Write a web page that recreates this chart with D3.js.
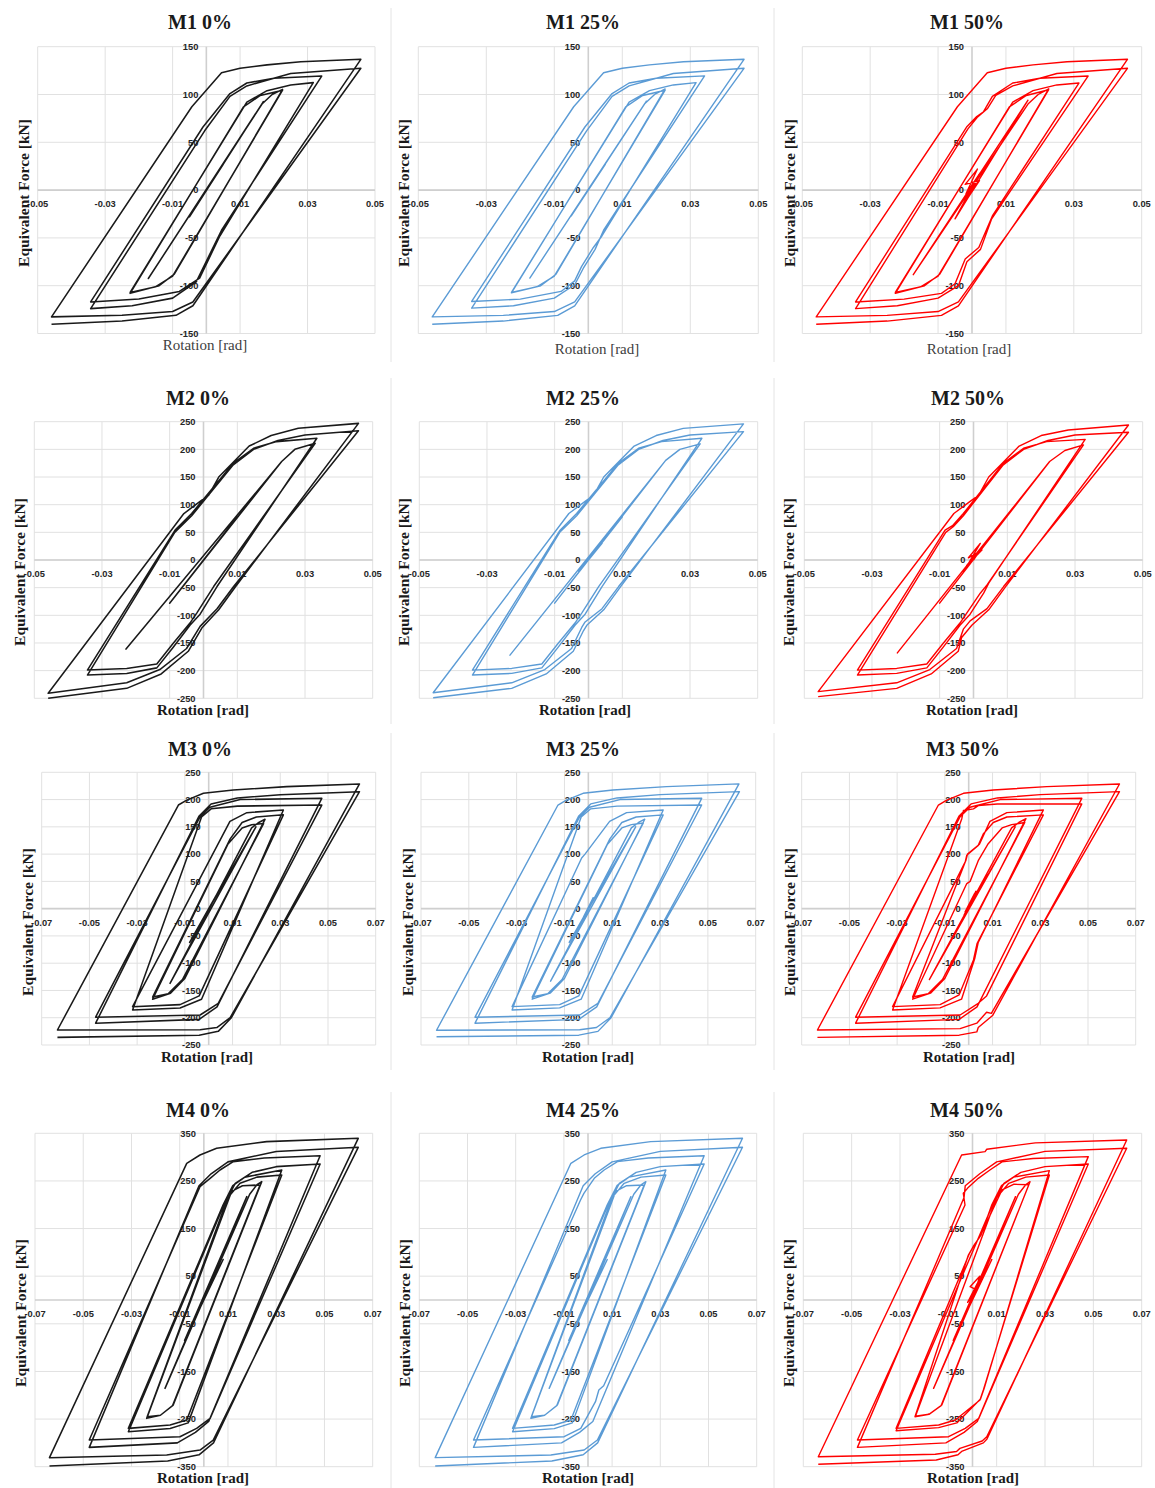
<!DOCTYPE html>
<html>
<head>
<meta charset="utf-8">
<script src="https://cdn.jsdelivr.net/npm/d3@7"></script>
<style>
  body { margin: 0; background: #fff; }
  svg { display: block; }
</style>
</head>
<body>
<svg id="chart" width="1155" height="1488"></svg>
<script>
// ---------- Tick values ----------
const xTicksM12 = [-0.05, -0.03, -0.01, 0.01, 0.03, 0.05];
const xTicksM34 = [-0.07, -0.05, -0.03, -0.01, 0.01, 0.03, 0.05, 0.07];
const yTicksM1 = [-150, -100, -50, 0, 50, 100, 150];
const yTicksM23 = [-250, -200, -150, -100, -50, 0, 50, 100, 150, 200, 250];
const yTicksM4 = [-350, -250, -150, -50, 50, 150, 250, 350];

// ---------- Hysteresis records: [rotation (rad), equivalent force (kN)] ----------
const M1_0 = [
  [0,0],[0.005,27],[-0.005,-28],[0.0169,92.5],[-0.0172,-92.5],
  [0.0165,90],[0.0195,100],[0.0226,105.4],
  [-0.0095,-88],[-0.014,-100],[-0.0226,-108],
  [0.011,87],[0.016,99],[0.0226,104.5],
  [-0.010,-90],[-0.015,-101],[-0.0226,-107],
  [0.012,92],[0.018,104],[0.025,110],[0.0317,112.4],
  [0.004,-48],[-0.002,-92],[-0.008,-106],[-0.02,-114],[-0.0343,-117],
  [-0.001,66],[0.007,101],[0.012,112],[0.02,117],[0.0342,119.3],
  [0.0045,-42],[-0.003,-96],[-0.01,-113],[-0.022,-121],[-0.0343,-124],
  [-0.0005,62],[0.007,98],[0.012,109],[0.025,122],[0.0458,127.4],
  [-0.004,-117],[-0.01,-127],[-0.025,-131],[-0.0459,-132.6],
  [-0.0043,87.2],[0.0045,122.8],[0.01,127.4],[0.018,131],[0.028,134.3],[0.0458,136.8],
  [-0.004,-121],[-0.009,-131],[-0.025,-137],[-0.0459,-140.3]
];
const M1_25 = [
  [0,0],[0.005,27],[-0.005,-27],[0.0171,93],[-0.0172,-92],
  [0.0165,90],[0.0195,100],[0.0226,105.8],
  [-0.0095,-88],[-0.014,-100],[-0.0226,-107.5],
  [0.011,87],[0.016,99],[0.0226,104.5],
  [-0.010,-90],[-0.015,-101],[-0.0226,-107],
  [0.012,92],[0.018,104],[0.025,110],[0.0317,112.4],
  [0.004,-48],[0.0015,-60],[-0.002,-80],[-0.004,-95],[-0.008,-106],[-0.02,-114],[-0.0343,-116.5],
  [-0.001,66],[0.007,101],[0.012,112],[0.02,117],[0.0342,119.5],
  [0.0045,-42],[0.002,-62],[-0.0015,-82],[-0.004,-99],[-0.01,-113],[-0.022,-121],[-0.0343,-123.5],
  [-0.0005,62],[0.007,98],[0.012,109],[0.025,122],[0.0458,127.4],
  [-0.004,-117],[-0.01,-127],[-0.025,-131],[-0.0459,-132.6],
  [-0.0043,87.2],[0.0045,122.8],[0.01,127.4],[0.018,131],[0.028,134.3],[0.0458,136.8],
  [-0.004,-121],[-0.009,-131],[-0.025,-137],[-0.0459,-140.3]
];
const M1_50 = [
  [0,0],[0.0024,18],[-0.0018,-4],[0.0016,22],[-0.002,6],[0.0022,10],[-0.0012,-8],[0.002,16],
  [-0.005,-30],[0.0165,94],[-0.0173,-88.5],
  [0.0165,90],[0.0195,100],[0.0226,106],
  [-0.0095,-88],[-0.014,-100],[-0.0226,-108],
  [0.011,87],[0.016,99],[0.0226,105],
  [-0.010,-90],[-0.015,-101],[-0.0226,-107],
  [0.012,92],[0.018,104],[0.025,110],[0.0315,112],
  [0.006,-27],[0.002,-60],[-0.002,-72],[-0.005,-98],[-0.009,-108],[-0.02,-114],[-0.0343,-117],
  [-0.0016,66],[0.0014,77],[0.0034,82],[0.006,98],[0.012,112],[0.02,117],[0.0342,119.3],
  [0.0058,-30],[0.0025,-62],[-0.0015,-75],[-0.004,-100],[-0.01,-113],[-0.022,-121],[-0.0343,-124],
  [-0.0012,64],[0.0015,76],[0.0045,85],[0.007,99],[0.012,109],[0.025,122],[0.0458,127.4],
  [-0.004,-117],[-0.01,-127],[-0.025,-131],[-0.0459,-132.6],
  [-0.0043,87.2],[0.0045,122.8],[0.01,127.4],[0.018,131],[0.028,134.3],[0.0458,136.8],
  [-0.004,-121],[-0.009,-131],[-0.025,-137],[-0.0459,-140.3]
];

const M2_0 = [
  [0,0],[0.01,78],[-0.01,-78],[0.0231,178],[-0.0229,-161],[0.0231,178],
  [0.027,200],[0.033,211],
  [0.003,-48],[-0.002,-96],[-0.004,-114],[-0.009,-151],[-0.0138,-188],[-0.0227,-196],[-0.0343,-199],
  [-0.0084,54],[-0.0035,84],[0.0088,175],[0.0148,202],[0.0216,214],[0.0335,220],
  [0.004,-48],[-0.001,-98],[-0.004,-118],[-0.009,-158],[-0.0138,-195],[-0.0227,-205],[-0.0343,-208],
  [-0.0085,50],[-0.0035,80],[0.0088,172],[0.0148,200],[0.022,216],[0.03,226],[0.0458,233.7],
  [0.0089,-48],[0.004,-88],[-0.001,-120],[-0.005,-160],[-0.0129,-198],[-0.0227,-222],[-0.0459,-241],
  [-0.0058,84],[-0.001,106],[0.0015,117],[0.0045,150],[0.009,178],[0.0135,206],[0.02,225],[0.028,238],[0.0458,247],
  [0.0095,-48],[0.0045,-90],[-0.0005,-123],[-0.0045,-165],[-0.0125,-206],[-0.0227,-232],[-0.0459,-250]
];
const M2_25 = [
  [0,0],[0.003,25],[-0.002,-15],[0.004,30],[-0.003,-20],
  [0.01,78],[-0.01,-78],[0.0228,180],[-0.0232,-172],[0.0228,180],
  [0.027,200],[0.033,210],
  [0.003,-48],[-0.002,-96],[-0.004,-114],[-0.009,-151],[-0.0138,-188],[-0.0227,-196],[-0.0343,-199],
  [-0.0084,54],[-0.0035,84],[0.0088,175],[0.0148,202],[0.0216,214],[0.0335,220],
  [0.004,-48],[-0.001,-98],[-0.004,-118],[-0.009,-158],[-0.0138,-195],[-0.0227,-205],[-0.0343,-208],
  [-0.0085,50],[-0.0035,80],[0.0088,172],[0.0148,200],[0.022,216],[0.03,226],[0.0458,232],
  [0.0089,-48],[0.004,-88],[-0.001,-112],[-0.002,-122],[-0.005,-160],[-0.0129,-198],[-0.0227,-222],[-0.0459,-240],
  [-0.0058,84],[-0.001,106],[0.0015,117],[0.0045,150],[0.009,178],[0.0135,206],[0.02,225],[0.028,238],[0.0458,246],
  [0.0095,-48],[0.0045,-90],[-0.0005,-118],[-0.0015,-128],[-0.0045,-165],[-0.0125,-206],[-0.0227,-232],[-0.0459,-249]
];
const M2_50 = [
  [0,0],[0.003,28],[-0.002,-10],[0.0025,18],[-0.0015,4],[0.002,30],[-0.003,-22],[0.01,80],[-0.01,-78],
  [0.0225,178],[-0.0225,-168],[0.0225,178],[0.027,198],[0.0325,208],
  [0.004,-45],[0.002,-60],[-0.002,-96],[-0.004,-114],[-0.009,-151],[-0.0138,-188],[-0.0227,-196],[-0.0343,-199],
  [-0.0084,54],[-0.0062,62],[-0.003,84],[0.0088,175],[0.0148,202],[0.0216,214],[0.033,218],
  [0.0045,-42],[0.003,-60],[-0.001,-98],[-0.004,-118],[-0.009,-158],[-0.0138,-195],[-0.0227,-205],[-0.0343,-208],
  [-0.0082,50],[-0.006,60],[-0.003,80],[0.0088,172],[0.0148,200],[0.022,216],[0.03,226],[0.0458,231],
  [0.0089,-48],[0.004,-88],[-0.001,-110],[-0.003,-125],[-0.005,-160],[-0.0129,-198],[-0.0227,-222],[-0.0459,-238],
  [-0.0058,84],[-0.001,106],[0.0015,117],[0.0045,150],[0.009,178],[0.0135,206],[0.02,225],[0.028,235],[0.0458,244],
  [0.0095,-48],[0.0045,-90],[-0.0005,-118],[-0.0035,-140],[-0.0045,-165],[-0.0125,-206],[-0.0227,-232],[-0.0459,-247]
];

const M3_0 = [
  [0,0],[0.008,62],[-0.008,-62],[0.0198,150],[-0.0162,-137],
  [0.018,148],[0.021,158],[0.0236,163.8],
  [-0.010,-128],[-0.016,-155],[-0.0235,-166],
  [0.008,118],[0.014,148],[0.018,154],[0.023,156],
  [-0.011,-130],[-0.017,-156],[-0.0235,-162],
  [0.009,128],[0.014,158],[0.02,168],[0.0313,172],
  [-0.004,-160],[-0.012,-176],[-0.0319,-179.7],
  [0.0089,160],[0.016,176],[0.0313,181],
  [-0.003,-166],[-0.012,-182],[-0.0319,-185.8],
  [-0.003,168],[0.001,183],[0.012,188],[0.0474,190],
  [0.004,-173.6],[-0.0036,-195],[-0.0474,-199],
  [-0.0036,168.7],[0.0005,186],[0.0132,200],[0.0474,202.3],
  [0.0035,-180],[-0.004,-203],[-0.0474,-210],
  [-0.004,170],[0.001,192],[0.012,203],[0.03,209],[0.0632,214.5],
  [0.009,-200],[0.0034,-218],[-0.0036,-222],[-0.0634,-222.5],
  [-0.0127,190],[-0.0092,199],[-0.0022,211.5],[0.0103,217.6],[0.0327,223.7],[0.0632,228.6],
  [0.0095,-200],[0.004,-225],[-0.004,-232],[-0.0634,-236]
];
const M3_25 = [
  [0,0],[0.002,20],[-0.002,-15],[0.008,62],[-0.008,-62],[0.0198,150],[-0.0158,-133],
  [0.018,148],[0.021,158],[0.0236,164],
  [-0.010,-128],[-0.016,-155],[-0.0235,-166],
  [0.008,118],[0.014,148],[0.018,154],[0.023,157],
  [-0.011,-130],[-0.017,-156],[-0.0235,-162],
  [0.009,128],[0.014,158],[0.02,168],[0.0313,172],
  [-0.004,-160],[-0.012,-176],[-0.0319,-179.7],
  [-0.0028,93],[-0.0014,100],[0.0089,160],[0.016,176],[0.0313,181],
  [-0.003,-166],[-0.012,-182],[-0.0319,-185.8],
  [-0.003,168],[0.001,183],[0.012,188],[0.0474,190],
  [0.004,-173.6],[-0.0036,-195],[-0.0474,-199],
  [-0.0036,168.7],[0.0005,186],[0.0132,200],[0.0474,202.3],
  [0.0035,-180],[-0.004,-203],[-0.0474,-210],
  [-0.004,170],[0.001,192],[0.012,203],[0.03,209],[0.0632,214.5],
  [0.009,-200],[0.0034,-218],[-0.0036,-222],[-0.0635,-223],
  [-0.0127,190],[-0.0092,199],[-0.0022,211.5],[0.0103,217.6],[0.0327,223.7],[0.063,228.7],
  [0.0095,-200],[0.004,-225],[-0.004,-232],[-0.0635,-235]
];
const M3_50 = [
  [0,0],[0.0025,28],[-0.0015,-6],[0.002,16],[-0.002,-12],[0.003,32],[-0.003,-25],
  [0.008,62],[-0.008,-62],[0.0195,150],[-0.0165,-130],
  [0.018,148],[0.021,158],[0.024,165],
  [-0.010,-128],[-0.016,-155],[-0.0235,-166],
  [-0.0008,46],[0.0006,50],[0.004,88],[0.008,118],[0.014,148],[0.018,154],[0.0235,158],
  [-0.011,-130],[-0.017,-156],[-0.0235,-162],
  [-0.0015,85],[-0.0008,98],[0.004,116],[0.0061,137],[0.0103,158],[0.016,168],[0.0313,172],
  [0.0035,-64],[0.002,-94],[-0.004,-158],[-0.012,-176],[-0.0319,-179.7],
  [-0.0012,88],[-0.0005,100],[0.0045,118],[0.0089,160],[0.016,176],[0.0313,181],
  [0.004,-62],[0.0025,-92],[-0.003,-166],[-0.012,-182],[-0.0319,-185.8],
  [-0.0029,165],[-0.0022,180],[0.002,183],[0.004,189],[0.012,192],[0.0474,192],
  [0.0075,-160],[0.004,-173.6],[-0.0036,-195],[-0.0474,-199],
  [-0.0036,168.7],[0.0005,186],[0.0132,200],[0.0474,202.3],
  [0.0035,-180],[-0.004,-203],[-0.0474,-210],
  [-0.004,170],[0.001,192],[0.012,203],[0.03,209],[0.0632,214.5],
  [0.0095,-192],[0.0075,-190],[0.0034,-210],[-0.0036,-220],[-0.0634,-222.5],
  [-0.0127,190],[-0.0092,199],[-0.0022,211.5],[0.0103,217.6],[0.0327,223.7],[0.0632,228.6],
  [0.01,-196],[0.004,-218],[0.0034,-226],[-0.004,-232],[-0.0634,-236]
];

const M4_0 = [
  [0,0],[0.008,85],[-0.008,-85],[0.0178,217],[-0.0161,-185.5],
  [0.019,222],[0.022,242],[0.024,248.5],
  [-0.0127,-220.5],[-0.018,-242],[-0.0237,-248.5],
  [0.0115,228],[0.016,240],[0.0233,241.5],
  [-0.013,-222],[-0.018,-242],[-0.0235,-245],
  [0.01,215],[0.015,245],[0.022,258],[0.0323,262.5],
  [-0.0071,-252],[-0.014,-262.5],[-0.0313,-269.5],
  [0.008,200],[0.012,240],[0.017,258],[0.0323,273],
  [-0.0065,-258],[-0.014,-270],[-0.0313,-276.5],
  [0.008,196],[0.013,245],[0.02,268],[0.03,280],[0.0482,285.6],
  [0.0026,-248.5],[-0.003,-269.5],[-0.0099,-287],[-0.0475,-294],
  [-0.0016,238],[0.0026,255.5],[0.0067,273],[0.0122,290.5],[0.025,298],[0.0482,303],
  [0.002,-255],[-0.0035,-278],[-0.011,-300],[-0.0475,-309.4],
  [-0.002,240],[0.003,265],[0.01,290],[0.03,312],[0.064,320.6],
  [0.0039,-294],[-0.0016,-315],[-0.0154,-325.5],[-0.064,-331],
  [-0.0071,287],[-0.0016,304.5],[0.0053,318.5],[0.026,332.5],[0.064,339.5],
  [0.004,-300],[-0.002,-325],[-0.015,-338],[-0.064,-348.6]
];
const M4_25 = [
  [0,0],[0.008,85],[-0.008,-85],[0.0178,217],[-0.0161,-185.5],
  [0.019,222],[0.022,242],[0.024,248.5],
  [-0.0127,-220.5],[-0.018,-242],[-0.0237,-248.5],
  [0.0115,228],[0.016,240],[0.0233,241.5],
  [-0.013,-222],[-0.018,-242],[-0.0235,-245],
  [0.01,215],[0.015,245],[0.022,258],[0.0323,262.5],
  [-0.0071,-252],[-0.014,-262.5],[-0.0313,-269.5],
  [0.008,200],[0.012,240],[0.017,258],[0.0323,273],
  [-0.0065,-258],[-0.014,-270],[-0.0313,-276.5],
  [0.008,196],[0.013,245],[0.02,268],[0.03,280],[0.0482,285.6],
  [0.0065,-180],[0.0045,-189],[0.0031,-213.5],[-0.003,-269.5],[-0.0099,-287],[-0.0475,-294],
  [-0.0031,210],[-0.0017,224],[0.0026,255.5],[0.0067,273],[0.0122,290.5],[0.025,298],[0.0482,303],
  [0.002,-255],[-0.0035,-278],[-0.011,-300],[-0.0475,-309.4],
  [-0.002,240],[0.003,265],[0.01,290],[0.03,312],[0.0641,320.6],
  [0.0039,-294],[-0.0016,-315],[-0.0154,-325.5],[-0.0634,-331],
  [-0.0071,287],[-0.0016,304.5],[0.0053,318.5],[0.026,332.5],[0.0641,339.5],
  [0.004,-300],[-0.002,-325],[-0.015,-338],[-0.0634,-348.6]
];
const M4_50 = [
  [0,0],[0.003,50],[-0.001,28],[0.0017,21],[-0.002,-5],[0.0025,40],[-0.003,-30],
  [0.008,85],[-0.008,-85],[0.0178,217],[-0.0161,-185.5],
  [0.019,222],[0.022,242],[0.0238,248.5],
  [-0.0127,-220.5],[-0.018,-240],[-0.0238,-245],
  [-0.0017,94.5],[0.0003,112],[0.0031,133],[0.0122,231],[0.017,243],[0.0233,242],
  [-0.013,-222],[-0.018,-240],[-0.0236,-244],
  [0.01,215],[0.015,245],[0.022,258],[0.0318,262.5],
  [0.0045,-189],[0.0031,-210],[-0.0071,-252],[-0.014,-262.5],[-0.0316,-269.5],
  [-0.0015,95],[0.0005,114],[0.0035,136],[0.008,200],[0.012,240],[0.017,258],[0.0318,271.6],
  [0.0048,-186],[0.0033,-208],[-0.0065,-258],[-0.014,-268],[-0.0316,-274.4],
  [0.008,196],[0.013,245],[0.02,268],[0.03,280],[0.0479,285.6],
  [0.0026,-248.5],[-0.003,-269.5],[-0.0099,-287],[-0.0476,-294],
  [-0.0031,199.5],[-0.0038,224],[-0.002,235],[0.0024,255.5],[0.0072,273],[0.0122,290],[0.025,297],[0.0479,301],
  [0.002,-255],[-0.0035,-278],[-0.011,-300],[-0.0476,-309.4],
  [-0.0035,215],[-0.003,240],[0.003,265],[0.01,290],[0.03,312],[0.0638,318.5],
  [0.0059,-287],[0.004,-296],[-0.0052,-311.5],[-0.0066,-318],[-0.0154,-324],[-0.0638,-329],
  [-0.0045,304.5],[0.0052,311.5],[0.0059,316.5],[0.026,330],[0.0638,336],
  [0.006,-292],[0.0045,-300],[-0.0045,-318],[-0.006,-325],[-0.015,-336],[-0.0638,-345]
];

// ---------- Styling and layout ----------
const COLORS = ["#1a1a1a", "#5b9bd5", "#ff0000"];
const WIDTHS = [1.55, 1.4, 1.4];
const TITLES = [["M1 0%","M1 25%","M1 50%"],["M2 0%","M2 25%","M2 50%"],
                ["M3 0%","M3 25%","M3 50%"],["M4 0%","M4 25%","M4 50%"]];
const DATA = [[M1_0,M1_25,M1_50],[M2_0,M2_25,M2_50],[M3_0,M3_25,M3_50],[M4_0,M4_25,M4_50]];

const rows = [
  {xDom:[-0.05,0.05], yDom:[-150,150], xTicks:xTicksM12, yTicks:yTicksM1, yGrid:yTicksM1,
   yTop:46.7, yBot:333.5, titleY:29, rotY:[350,354,354], ylabY:193, rotBold:false,
   sep:[8,362],
   cols:[{xL:37.7,xR:375,tX:200,rX:205,yX:23},{xL:418.3,xR:758.3,tX:583,rX:597,yX:403},{xL:802.3,xR:1141.7,tX:967,rX:969,yX:789}]},
  {xDom:[-0.05,0.05], yDom:[-250,250], xTicks:xTicksM12, yTicks:yTicksM23, yGrid:yTicksM23,
   yTop:421.7, yBot:698.3, titleY:405, rotY:[715,715,715], ylabY:572, rotBold:true,
   sep:[378,724],
   cols:[{xL:34.3,xR:372.7,tX:198,rX:203,yX:19},{xL:419.3,xR:757.7,tX:583,rX:585,yX:403},{xL:804.3,xR:1142.7,tX:968,rX:972,yX:788}]},
  {xDom:[-0.07,0.07], yDom:[-250,250], xTicks:xTicksM34, yTicks:yTicksM23, yGrid:yTicksM23,
   yTop:772.3, yBot:1045, titleY:756, rotY:[1062,1062,1062], ylabY:922, rotBold:true,
   sep:[733,1070],
   cols:[{xL:41.7,xR:375.7,tX:200,rX:207,yX:27},{xL:421,xR:755.7,tX:583,rX:588,yX:407},{xL:801.7,xR:1135.7,tX:963,rX:969,yX:789}]},
  {xDom:[-0.07,0.07], yDom:[-350,350], xTicks:xTicksM34, yTicks:yTicksM4, yGrid:yTicksM4,
   yTop:1133.3, yBot:1466.7, titleY:1117, rotY:[1483,1483,1483], ylabY:1313, rotBold:true,
   sep:[1092,1488],
   cols:[{xL:35,xR:372.7,tX:198,rX:203,yX:20},{xL:419.3,xR:756.7,tX:583,rX:588,yX:404},{xL:803.3,xR:1141.7,tX:967,rX:973,yX:788}]}
];

const svg = d3.select("#chart");
const serif = "'Liberation Serif','Times New Roman',serif";
const sans = "'Liberation Sans',Arial,sans-serif";

// thin borders between neighbouring charts
rows.forEach(r => {
  [391, 774].forEach(xp => {
    svg.append("line").attr("x1", xp).attr("x2", xp).attr("y1", r.sep[0]).attr("y2", r.sep[1])
      .attr("stroke", "#e4e4e4").attr("stroke-width", 1);
  });
});

rows.forEach((r, ri) => {
  r.cols.forEach((c, ci) => {
    const g = svg.append("g");
    const x = d3.scaleLinear().domain(r.xDom).range([c.xL, c.xR]);
    const y = d3.scaleLinear().domain(r.yDom).range([r.yBot, r.yTop]);

    // gridlines
    g.selectAll(".vg").data(r.xTicks).join("line")
      .attr("x1", d => x(d)).attr("x2", d => x(d)).attr("y1", r.yTop).attr("y2", r.yBot)
      .attr("stroke", "#e1e1e1").attr("stroke-width", 1);
    g.selectAll(".hg").data(r.yGrid).join("line")
      .attr("x1", c.xL).attr("x2", c.xR).attr("y1", d => y(d)).attr("y2", d => y(d))
      .attr("stroke", "#e1e1e1").attr("stroke-width", 1);

    // axes crossing at the origin
    g.append("line").attr("x1", c.xL).attr("x2", c.xR).attr("y1", y(0)).attr("y2", y(0))
      .attr("stroke", "#cfcfcf").attr("stroke-width", 1.6);
    g.append("line").attr("x1", x(0)).attr("x2", x(0)).attr("y1", r.yTop).attr("y2", r.yBot)
      .attr("stroke", "#cfcfcf").attr("stroke-width", 1.6);

    // tick labels
    g.selectAll(".xl").data(r.xTicks).join("text")
      .attr("x", d => x(d)).attr("y", y(0) + 17)
      .attr("text-anchor", "middle")
      .attr("font-family", sans).attr("font-weight", "bold").attr("font-size", 9.3)
      .attr("fill", "#262626")
      .text(d => d.toFixed(2));
    g.selectAll(".yl").data(r.yTicks).join("text")
      .attr("x", x(0) - 8).attr("y", d => y(d) + 3.3)
      .attr("text-anchor", "end")
      .attr("font-family", sans).attr("font-weight", "bold").attr("font-size", 9.3)
      .attr("fill", "#262626")
      .text(d => String(d));

    // hysteresis curve
    const line = d3.line().x(d => x(d[0])).y(d => y(d[1]));
    g.append("path").datum(DATA[ri][ci])
      .attr("d", line)
      .attr("fill", "none")
      .attr("stroke", COLORS[ci])
      .attr("stroke-width", WIDTHS[ci])
      .attr("stroke-linejoin", "round");

    // titles
    g.append("text").attr("x", c.tX).attr("y", r.titleY)
      .attr("text-anchor", "middle").attr("font-family", serif)
      .attr("font-weight", "bold").attr("font-size", 20).attr("fill", "#1a1a1a")
      .text(TITLES[ri][ci]);
    g.append("text").attr("x", c.rX).attr("y", r.rotY[ci])
      .attr("text-anchor", "middle").attr("font-family", serif)
      .attr("font-weight", r.rotBold ? "bold" : "normal").attr("font-size", 15)
      .attr("fill", r.rotBold ? "#1a1a1a" : "#404040")
      .text("Rotation [rad]");
    g.append("text")
      .attr("transform", `translate(${c.yX},${r.ylabY}) rotate(-90)`)
      .attr("text-anchor", "middle").attr("dominant-baseline", "central")
      .attr("font-family", serif).attr("font-weight", "bold").attr("font-size", 15.5)
      .attr("fill", "#1a1a1a")
      .text("Equivalent Force [kN]");
  });
});
</script>
</body>
</html>
